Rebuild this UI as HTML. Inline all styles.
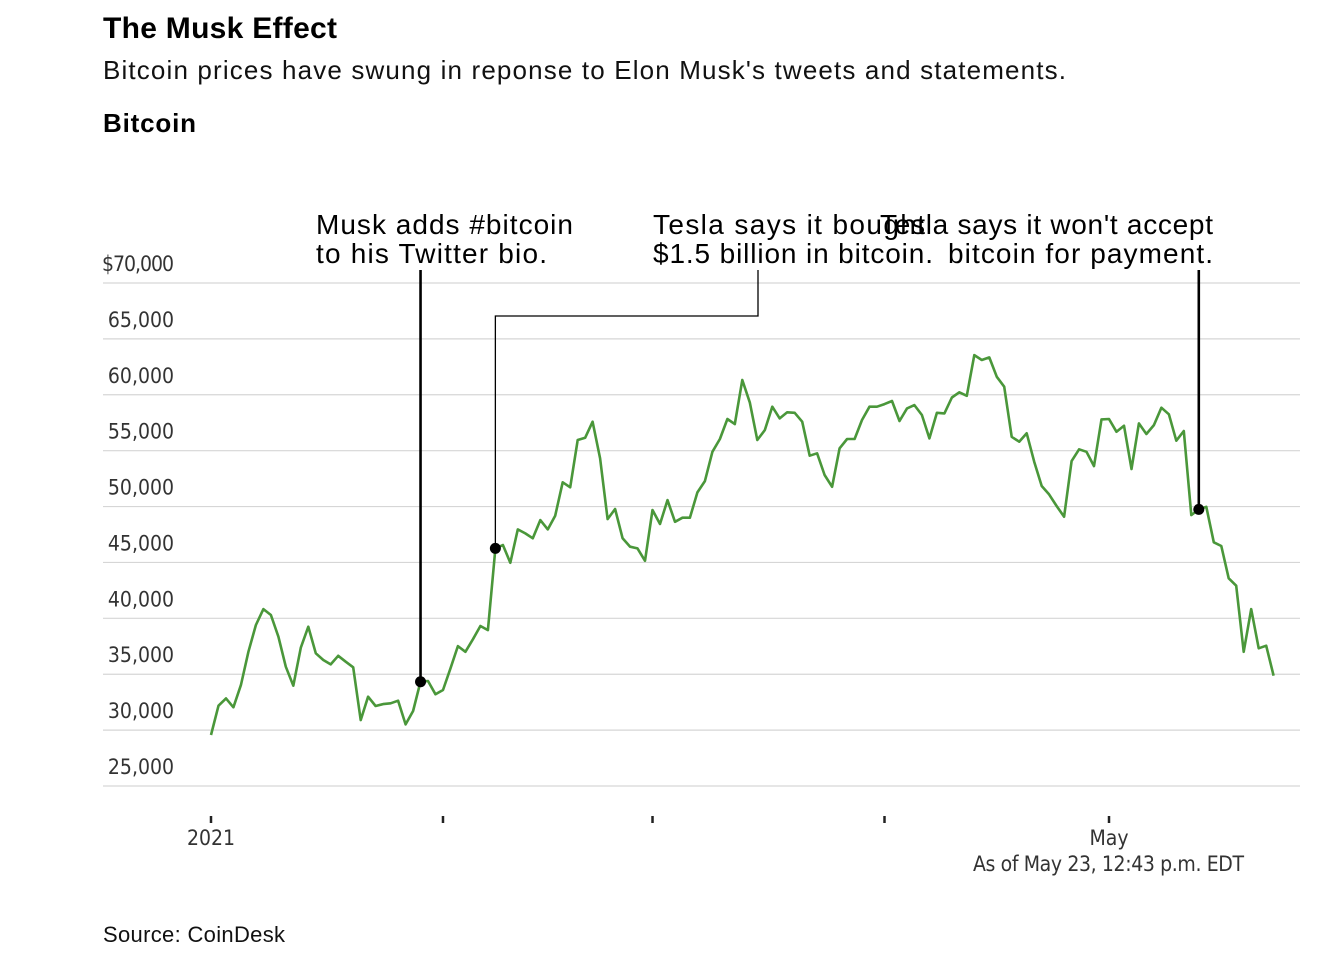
<!DOCTYPE html>
<html><head><meta charset="utf-8"><style>
body{margin:0;background:#fff;width:1344px;height:960px;overflow:hidden;font-family:"Liberation Sans",sans-serif;}
svg{display:block}
</style></head><body>
<svg id="chart" width="1344" height="960">
<text x="103" y="38" font-size="30" font-weight="bold" fill="#000" font-family="Liberation Sans, sans-serif" textLength="234">The Musk Effect</text>
<text x="103" y="79" font-size="26" fill="#111" font-family="Liberation Sans, sans-serif" textLength="963">Bitcoin prices have swung in reponse to Elon Musk's tweets and statements.</text>
<text x="103" y="132" font-size="26" font-weight="bold" fill="#000" font-family="Liberation Sans, sans-serif" textLength="93">Bitcoin</text>
<g id="grid"></g><g id="yticks"></g><g id="xticks"></g>
<path id="line" fill="none" stroke="#4a973a" stroke-width="2.6" stroke-linejoin="round"/>
<g id="annos"></g>
<text x="1244" y="871" font-size="21" fill="#333" text-anchor="end" font-family="Liberation Sans Narrow, DejaVu Sans Condensed, sans-serif" textLength="271">As of May 23, 12:43 p.m. EDT</text>
<text x="103" y="942" font-size="22" fill="#111" font-family="Liberation Sans, sans-serif" textLength="182">Source: CoinDesk</text>
</svg>
<script>
const prices=[29560,32180,32840,32040,34030,37010,39400,40830,40300,38360,35670,33970,37370,39250,36870,36270,35880,36650,36120,35620,30900,32990,32160,32330,32400,32630,30510,31710,34330,34390,33200,33590,35530,37520,37010,38120,39310,38950,46260,46560,44970,47960,47600,47160,48790,47960,49180,52170,51720,55950,56160,57590,54310,48880,49780,47160,46410,46260,45150,49690,48440,50580,48640,49000,49000,51270,52280,54900,56040,57830,57380,61320,59320,55950,56840,58930,57890,58430,58390,57590,54550,54760,52820,51770,55210,56040,56040,57740,58930,58930,59170,59440,57650,58780,59080,58190,56100,58390,58330,59760,60220,59910,63550,63110,63340,61610,60720,56240,55800,56550,54010,51840,51090,50050,49090,54070,55120,54900,53620,57800,57830,56690,57230,53360,57440,56490,57290,58840,58250,55890,56760,49240,49750,49980,46800,46470,43580,42920,37010,40830,37320,37550,34870];
const yTickValues=[25000,30000,35000,40000,45000,50000,55000,60000,65000,70000];
const yTickLabels=["25,000","30,000","35,000","40,000","45,000","50,000","55,000","60,000","65,000","$70,000"];
const xTickDays=[0,31,59,90,120];
const xTickLabels=["2021","","","","May"];
const annoDays=[28,38,132];
const annoLines1=["Musk adds #bitcoin","Tesla says it bought","Tesla says it won't accept"];
const annoLines2=["to his Twitter bio.","$1.5 billion in bitcoin.","bitcoin for payment."];
const NS="http://www.w3.org/2000/svg";
const x=d=>211+d*(898/120);
const y=v=>786-(v-25000)*(503/45000);
function mk(t,a,p){const e=document.createElementNS(NS,t);for(const k in a)e.setAttribute(k,a[k]);p.appendChild(e);return e;}
const grid=document.getElementById('grid'),yt=document.getElementById('yticks'),xt=document.getElementById('xticks');
yTickValues.forEach((v,i)=>{
 const l=mk('line',{x1:103,x2:1300,y1:y(v),y2:y(v),stroke:'#d6d6d6','stroke-width':1.2},grid);
 
 
 const t=mk('text',{x:174,y:y(v)-12,'font-size':21,fill:'#333','text-anchor':'end','font-family':'Liberation Sans Narrow, DejaVu Sans Condensed, sans-serif'},yt);
 if(i===yTickValues.length-1) t.setAttribute('textLength',72);
 t.textContent=yTickLabels[i];
 
 
});
xTickDays.forEach((d,i)=>{
 const m=mk('line',{x1:x(d),x2:x(d),y1:816,y2:823,stroke:'#222','stroke-width':2.5},xt);
 
 
 if(xTickLabels[i]){const t=mk('text',{x:x(d),y:845,'font-size':21,fill:'#333','text-anchor':'middle','font-family':'Liberation Sans Narrow, DejaVu Sans Condensed, sans-serif'},xt);
 t.textContent=xTickLabels[i];
 
 }
});
document.getElementById('line').setAttribute('d',prices.map((v,i)=>(i?'L':'M')+x(i).toFixed(1)+','+y(v).toFixed(1)).join(''));
const an=document.getElementById('annos');
const textX=[316,653,880],text2X=[316,653,948];
const len1=[257,272,333],len2=[231,280,265];
annoDays.forEach((d,i)=>{
 const px=x(d),py=y(prices[d]);
 let p;
 if(i===1){p=mk('path',{d:`M758,270V316H${px}V${py}`,fill:'none',stroke:'#000','stroke-width':1.3},an);}
 else{p=mk('path',{d:`M${px},270V${py}`,fill:'none',stroke:'#000','stroke-width':2.6},an);}
 
 
 const c=mk('circle',{cx:px,cy:py,r:5.5,fill:'#000'},an);
 
 
 const t1=mk('text',{x:textX[i],y:234,'font-size':28,fill:'#000','font-family':'Liberation Sans, sans-serif',textLength:len1[i]},an);
 t1.textContent=annoLines1[i];
 
 
 const t2=mk('text',{x:text2X[i],y:263,'font-size':28,fill:'#000','font-family':'Liberation Sans, sans-serif',textLength:len2[i]},an);
 t2.textContent=annoLines2[i];
 
 
});
</script>
</body></html>
